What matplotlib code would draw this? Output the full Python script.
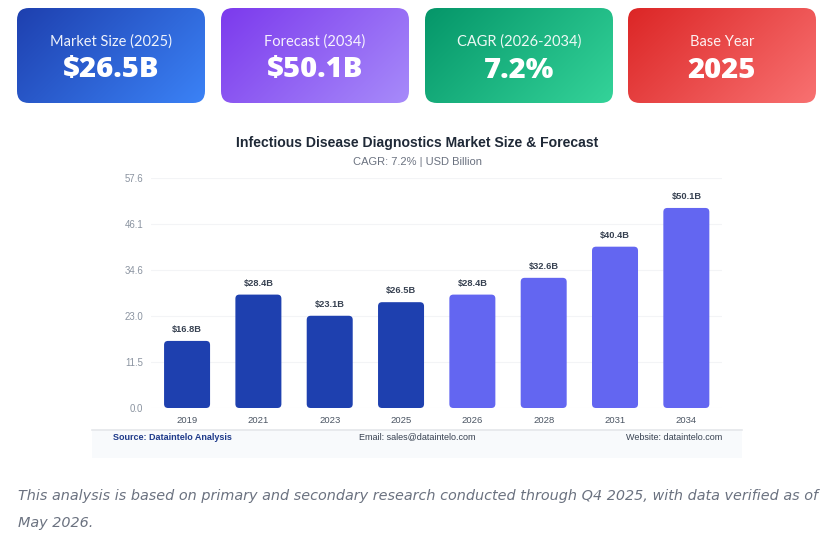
import numpy as np
import matplotlib
matplotlib.use("Agg")
import matplotlib.pyplot as plt
from matplotlib.patches import FancyBboxPatch, Rectangle

# ---- data ----
years = ["2019", "2021", "2023", "2025", "2026", "2028", "2031", "2034"]
values = [16.8, 28.4, 23.1, 26.5, 28.4, 32.6, 40.4, 50.1]
is_forecast = [False, False, False, False, True, True, True, True]
y_ticks = [0.0, 11.5, 23.0, 34.6, 46.1, 57.6]
y_max = 57.6

card_labels = ["Market Size (2025)", "Forecast (2034)", "CAGR (2026-2034)", "Base Year"]
card_values = ["$26.5B", "$50.1B", "7.2%", "2025"]
card_colors = [("#1e40af", "#3b82f6"), ("#7c3aed", "#a78bfa"),
               ("#059669", "#34d399"), ("#dc2626", "#f87171")]

title = "Infectious Disease Diagnostics Market Size & Forecast"
subtitle = "CAGR: 7.2% | USD Billion"
note_line1 = ("This analysis is based on primary and secondary research conducted through Q4 2025, "
              "with data verified as of")
note_line2 = "May 2026."

W, H = 830, 547
fig = plt.figure(figsize=(W / 100, H / 100), dpi=100)
fig.patch.set_facecolor("white")

# background overlay axes in pixel coords
bg = fig.add_axes([0, 0, 1, 1])
bg.set_xlim(0, W)
bg.set_ylim(H, 0)
bg.axis("off")


def hex2rgb(h):
    h = h.lstrip("#")
    return np.array([int(h[i:i + 2], 16) / 255 for i in (0, 2, 4)])


card_x = [17, 221, 425, 628]
card_w = 188
card_y0, card_y1 = 8, 103
for x0, lab, val, (c0, c1) in zip(card_x, card_labels, card_values, card_colors):
    a, b = hex2rgb(c0), hex2rgb(c1)
    nx, ny = 120, 60
    gx, gy = np.meshgrid(np.linspace(0, 1, nx), np.linspace(0, 1, ny))
    t = (gx * card_w + gy * (card_y1 - card_y0)) / (card_w + (card_y1 - card_y0))
    img = a[None, None, :] * (1 - t[..., None]) + b[None, None, :] * t[..., None]
    patch = FancyBboxPatch((x0, card_y0), card_w, card_y1 - card_y0,
                           boxstyle="round,pad=0,rounding_size=12",
                           facecolor="none", edgecolor="none", transform=bg.transData)
    bg.add_patch(patch)
    im = bg.imshow(img, extent=(x0, x0 + card_w, card_y1, card_y0), origin="upper",
                   interpolation="bilinear", zorder=1)
    im.set_clip_path(patch)
    cx = x0 + card_w / 2
    bg.text(cx, 42, lab, ha="center", va="center", color="white", alpha=0.92,
            fontsize=10.5, family="Lato", zorder=3)
    bg.text(cx, 70, val, ha="center", va="center", color="white",
            fontsize=21, family="Open Sans", fontweight="heavy", zorder=3)

# footer band
bg.add_patch(Rectangle((92, 429), 650, 29, facecolor="#f8fafc", edgecolor="none", zorder=0))
bg.plot([92, 742], [430, 430], color="#e5e7eb", lw=1.2, zorder=1)
bg.text(113, 437, "Source: Dataintelo Analysis", ha="left", va="center",
        color="#1e3a8a", fontsize=6.5, fontweight="bold", family="Liberation Sans")
bg.text(417, 437, "Email: sales@dataintelo.com", ha="center", va="center",
        color="#374151", fontsize=6.5, family="Liberation Sans")
bg.text(722, 437, "Website: dataintelo.com", ha="right", va="center",
        color="#374151", fontsize=6.5, family="Liberation Sans")

# titles
bg.text(417, 143, title, ha="center", va="center", color="#1f2937",
        fontsize=10.1, fontweight="bold", family="Liberation Sans")
bg.text(417, 162, subtitle, ha="center", va="center", color="#6b7280",
        fontsize=8, family="Liberation Sans")

# note
bg.text(18, 496, note_line1, ha="left", va="center", color="#6b7280",
        fontsize=10.4, style="italic", family="DejaVu Sans")
bg.text(18, 523, note_line2, ha="left", va="center", color="#6b7280",
        fontsize=10.4, style="italic", family="DejaVu Sans")

# ---- chart ----
ax_left, ax_right = 151.4, 722
ax_top, ax_bot = 178, 408
ax = fig.add_axes([ax_left / W, (H - ax_bot) / H, (ax_right - ax_left) / W, (ax_bot - ax_top) / H])
ax.set_facecolor("none")
ax.set_xlim(-0.5, len(years) - 0.5)
ax.set_ylim(0, y_max)

bar_w = 0.645
px_x = (ax_right - ax_left) / len(years)
px_y = (ax_bot - ax_top) / y_max
aspect = (1 / px_y) / (1 / px_x)
xs = np.arange(len(years))
for i, (v, f) in enumerate(zip(values, is_forecast)):
    col = "#6366f1" if f else "#1e40af"
    bars = ax.bar(xs[i], v, width=bar_w, color="none")
    r = bars[0]
    p = FancyBboxPatch((r.get_x(), 0), r.get_width(), v,
                       boxstyle="round,pad=0,rounding_size=%f" % (4 / px_x),
                       mutation_aspect=aspect, facecolor=col, edgecolor="none", zorder=2)
    ax.add_patch(p)
    ax.text(xs[i], v + 7 / px_y, "$%.1fB" % v, ha="center", va="bottom",
            fontsize=6.7, fontweight="bold", color="#374151", family="Liberation Sans")

ax.set_xticks(xs)
ax.set_xticklabels(years)
ax.set_yticks(np.linspace(0, y_max, 6))
ax.set_yticklabels(["%.1f" % t for t in y_ticks])
ax.tick_params(axis="x", length=0, pad=6, labelsize=6.8, labelcolor="#4b5563")
ax.tick_params(axis="y", length=0, pad=6, labelsize=6.9, labelcolor="#8a93a0")
for lbl in ax.get_xticklabels() + ax.get_yticklabels():
    lbl.set_family("Liberation Sans")
ax.grid(axis="y", color="#f3f4f6", lw=0.8, zorder=0)
ax.set_axisbelow(True)
for s in ax.spines.values():
    s.set_visible(False)

fig.savefig("out.png", dpi=100, facecolor="white")
